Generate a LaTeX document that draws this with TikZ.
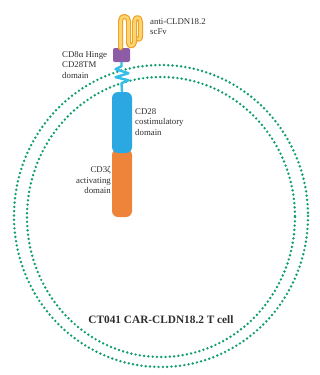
\documentclass[tikz,border=0pt]{standalone}
\usepackage{fontspec}
\setmainfont{Liberation Serif}
\usepackage{xcolor}
\usepackage{tikz}

\definecolor{membgreen}{RGB}{18,158,108}
\definecolor{cdblue}{RGB}{43,168,226}
\definecolor{tmcyan}{RGB}{52,190,232}
\definecolor{cdorange}{RGB}{238,132,58}
\definecolor{hingepurple}{RGB}{140,92,166}
\definecolor{scfvyellow}{RGB}{250,214,110}
\definecolor{scfvedge}{RGB}{243,160,40}
\definecolor{labelgray}{RGB}{45,45,45}

\tikzset{
  membrane/.style={membgreen, line width=2.7pt, line cap=round, dash pattern=on 0pt off 4.3pt},
  domainbar/.style={inner sep=0pt, minimum width=20pt, rounded corners=6pt},
  lbl/.style={inner sep=0pt, align=left, text=labelgray, font=\fontsize{8.8}{10.8}\selectfont}
}

\begin{document}
\begin{tikzpicture}[x=1pt,y=-1pt]
    \useasboundingbox (0,0) rectangle (320,375);
    % two dotted rings of the cell membrane
    \draw[membrane] (161,216) ellipse [x radius=147, y radius=151];
    \draw[membrane] (161,217) ellipse [x radius=134, y radius=140];
    % intracellular domains
    \node[domainbar, fill=cdorange, minimum height=68pt] (cd3z) at (122,183) {};
    \node[domainbar, fill=cdblue, minimum height=61pt] (cd28) at (122,122.5) {};
    % hinge
    \node[fill=hingepurple, inner sep=0pt, minimum width=17pt, minimum height=14pt,
      rounded corners=2pt] (hinge) at (121.5,55) {};
    % transmembrane part
    \draw[tmcyan, line width=2.4pt, line join=round]
      (hinge.south) -- ++(0,4) -- ++(-6,3) -- ++(13,4) -- ++(-13,4)
      -- ++(13,3) -- ++(-7,3) -- (cd28.north);
    % scFv loops
    \foreach \w/\c in {5pt/scfvedge,2.6pt/scfvyellow}
      \draw[\c, line width=\w, line cap=round, line join=round]
        (hinge.north) ++(-1,0) -- ++(0,-27)
        .. controls ++(0,-6) and (128.5,15) .. (128.5,21) -- (128.5,43)
        .. controls (128.5,47) and (134.5,47) .. (134.5,42) -- (134.5,22)
        .. controls (134.5,16) and (140.5,16) .. (140.5,22) -- (140.5,36)
        .. controls (140.5,39) and (139,40) .. (138,39);
    % labels
    \node[lbl, anchor=north west] (scfvlabel) at (150,18) {anti-CLDN18.2\\scFv};
    \node[lbl, anchor=north west] (hingelabel) at (62,51) {CD8α Hinge\\CD28TM\\domain};
    \node[lbl, anchor=north west] (costimlabel) at (135,108) {CD28\\costimulatory\\domain};
    \node[lbl, anchor=north east, align=right] (actlabel) at (111,166) {CD3ζ\\activating\\domain};
    \node[inner sep=1pt, text=labelgray, font=\fontsize{11.3}{13}\selectfont\bfseries]
      (celllabel) at (161,320) {CT041 CAR-CLDN18.2 T cell};
\end{tikzpicture}
\end{document}
